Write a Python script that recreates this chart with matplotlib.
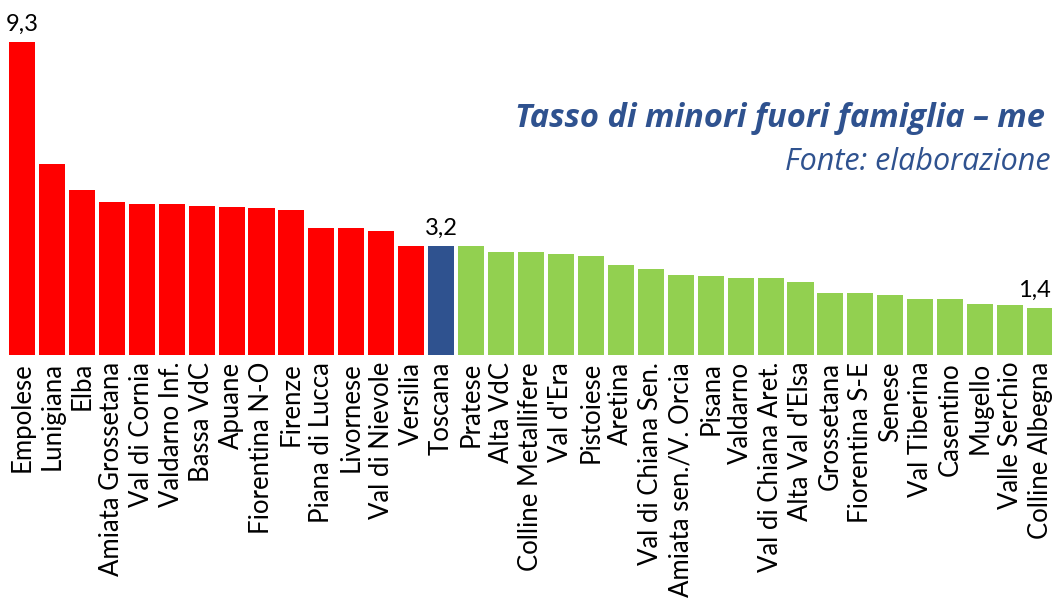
import matplotlib
matplotlib.use("Agg")
import matplotlib.pyplot as plt

# zone names and rates
zones = ["Empolese", "Lunigiana", "Elba", "Amiata Grossetana", "Val di Cornia",
         "Valdarno Inf.", "Bassa VdC", "Apuane", "Fiorentina N-O", "Firenze",
         "Piana di Lucca", "Livornese", "Val di Nievole", "Versilia", "Toscana",
         "Pratese", "Alta VdC", "Colline Metallifere", "Val d'Era", "Pistoiese",
         "Aretina", "Val di Chiana Sen.", "Amiata sen./V. Orcia", "Pisana", "Valdarno",
         "Val di Chiana Aret.", "Alta Val d'Elsa", "Grossetana", "Fiorentina S-E", "Senese",
         "Val Tiberina", "Casentino", "Mugello", "Valle Serchio", "Colline Albegna"]
rates = [9.3, 5.67, 4.9, 4.54, 4.48,
         4.48, 4.42, 4.39, 4.36, 4.31,
         3.77, 3.77, 3.68, 3.24, 3.24,
         3.24, 3.06, 3.06, 3.0, 2.94,
         2.67, 2.55, 2.37, 2.34, 2.29,
         2.29, 2.17, 1.84, 1.84, 1.78,
         1.66, 1.66, 1.51, 1.48, 1.4]
labelled = {"Empolese": "9,3", "Toscana": "3,2", "Colline Albegna": "1,4"}

RED = "#FF0000"
BLUE = "#2F528F"
GREEN = "#92D050"

toscana_idx = zones.index("Toscana")
colors = [RED if i < toscana_idx else BLUE if i == toscana_idx else GREEN
          for i in range(len(zones))]

plt.rcParams["font.family"] = ["Lato", "DejaVu Sans"]

fig = plt.figure(figsize=(10.52, 6.02), dpi=100)
ax = fig.add_axes([7 / 1052, 247 / 602, 1045 / 1052, 355 / 602])

x = range(len(zones))
ax.bar(x, rates, width=0.87, color=colors)

for i, name in enumerate(zones):
    if name in labelled:
        # last label sits a bit to the left so it stays inside the picture
        dx = -0.2 if i == len(zones) - 1 else 0
        ax.text(i + dx, rates[i] + 0.2, labelled[name], ha="center", va="bottom",
                fontsize=17, color="black")

ax.set_xlim(-0.5, 34.4)
ax.set_ylim(0, 10.54)
ax.set_xticks(list(x))
ax.set_xticklabels(zones, rotation=90, fontsize=18.5, va="top", ha="center")
ax.tick_params(axis="x", length=0, pad=5)
ax.set_yticks([])
for s in ax.spines.values():
    s.set_visible(False)

fig.text(1045 / 1052, 1 - 127 / 602, "Tasso di minori fuori famiglia – me",
         fontsize=23.5, fontweight="bold", fontstyle="italic", color=BLUE,
         family=["Open Sans", "DejaVu Sans"], ha="right", va="baseline")
fig.text(1051 / 1052, 1 - 170 / 602, "Fonte: elaborazione",
         fontsize=22, fontstyle="italic", color=BLUE,
         family=["Open Sans", "DejaVu Sans"], ha="right", va="baseline")

fig.savefig("out.png", dpi=100)
